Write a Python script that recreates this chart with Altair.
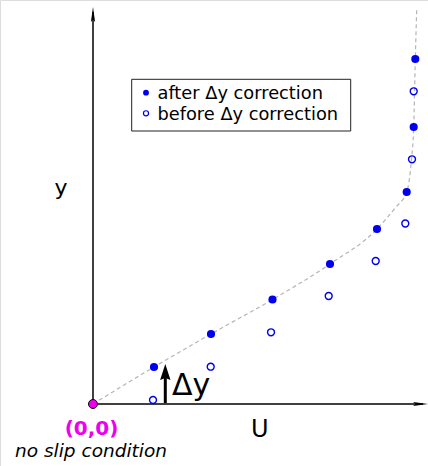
import altair as alt
import pandas as pd

# data (arbitrary units; origin at wall)
U_after = [61, 118, 179.5, 237, 284, 313.7, 320.7, 322.3]
Y_after = [37, 70, 104.5, 140, 175, 212, 277, 345]
U_before = [60, 117.7, 178, 235.7, 282.7, 312.3, 319, 320.7]
Y_before = [4, 37.3, 71.7, 108, 143, 180.5, 244.7, 312.7]
curve_U = [0, 61, 118, 179.5, 237, 284, 302, 313.7, 318.5, 320.7, 322.3, 323.7]
curve_Y = [0, 37, 70, 104.5, 140, 175, 196, 212, 245, 277, 345, 394]
legend_labels = ["after Δy correction", "before Δy correction"]

BLUE = "#0000ee"
MAG = "#ee00ee"
xs = alt.Scale(domain=[-93, 335], nice=False, zero=False)
ys = alt.Scale(domain=[-62, 404], nice=False, zero=False)
X = lambda f: alt.X(f, type="quantitative", scale=xs, axis=None)
Y = lambda f: alt.Y(f, type="quantitative", scale=ys, axis=None)

curve_df = pd.DataFrame({"u": curve_U, "y": curve_Y, "o": range(len(curve_U))})
after_df = pd.DataFrame({"u": U_after, "y": Y_after})
before_df = pd.DataFrame({"u": U_before, "y": Y_before})

curve = alt.Chart(curve_df).mark_line(
    color="#b5b5b5", strokeWidth=1.2, strokeDash=[4, 3], interpolate="monotone"
).encode(x=X("u"), y=Y("y"), order="o:Q")

axes_df = pd.DataFrame({"u": [0, 0], "y": [0, 0], "u2": [0, 330], "y2": [392, 0]})
axes = alt.Chart(axes_df).mark_rule(color="black", strokeWidth=1.5).encode(
    x=X("u"), y=Y("y"), x2="u2", y2="y2")

up_head = "M0,-1 L0.28,1 L0,0.65 L-0.28,1 Z"
right_head = "M1,0 L-1,0.28 L-0.65,0 L-1,-0.28 Z"
yhead = alt.Chart(pd.DataFrame({"u": [0], "y": [389.5]})).mark_point(
    shape=up_head, size=225, filled=True, color="black", opacity=1).encode(x=X("u"), y=Y("y"))
xhead = alt.Chart(pd.DataFrame({"u": [327.5], "y": [0]})).mark_point(
    shape=right_head, size=225, filled=True, color="black", opacity=1).encode(x=X("u"), y=Y("y"))

after = alt.Chart(after_df).mark_point(
    filled=True, color=BLUE, size=66, opacity=1).encode(x=X("u"), y=Y("y"))
before = alt.Chart(before_df).mark_point(
    filled=False, color=BLUE, size=48, strokeWidth=1.4, opacity=1).encode(x=X("u"), y=Y("y"))

origin = alt.Chart(pd.DataFrame({"u": [0], "y": [0]})).mark_point(
    filled=True, fill=MAG, stroke="black", strokeWidth=1, size=80, opacity=1
).encode(x=X("u"), y=Y("y"))

# delta-y arrow
dy_line = alt.Chart(pd.DataFrame({"u": [72.3], "y": [1], "y2": [27]})).mark_rule(
    color="black", strokeWidth=3).encode(x=X("u"), y=Y("y"), y2="y2")
dy_head = alt.Chart(pd.DataFrame({"u": [72.3], "y": [32]})).mark_point(
    shape="M0,-1 L0.65,1 L0,0.75 L-0.65,1 Z", size=256, filled=True, color="black", opacity=1
).encode(x=X("u"), y=Y("y"))
dy_text = alt.Chart(pd.DataFrame({"u": [79], "y": [9], "t": ["Δy"]})).mark_text(
    font="DejaVu Sans", fontSize=30, align="left", baseline="alphabetic", color="black"
).encode(x=X("u"), y=Y("y"), text="t:N")

labels_df = pd.DataFrame({
    "u": [-1.5, -2, 166.7, -32],
    "y": [-31, -53, -33, 209],
    "t": ["(0,0)", "no slip condition", "U", "y"],
})
lab00 = alt.Chart(labels_df.iloc[[0]]).mark_text(
    font="DejaVu Sans", fontSize=20, fontWeight="bold", color=MAG, align="center", baseline="alphabetic"
).encode(x=X("u"), y=Y("y"), text="t:N")
labns = alt.Chart(labels_df.iloc[[1]]).mark_text(
    font="DejaVu Sans", fontSize=18.5, fontStyle="italic", color="black", align="center", baseline="alphabetic"
).encode(x=X("u"), y=Y("y"), text="t:N")
labU = alt.Chart(labels_df.iloc[[2]]).mark_text(
    font="DejaVu Sans", fontSize=24, color="black", align="center", baseline="alphabetic"
).encode(x=X("u"), y=Y("y"), text="t:N")
labY = alt.Chart(labels_df.iloc[[3]]).mark_text(
    font="DejaVu Sans", fontSize=22, color="black", align="center", baseline="alphabetic"
).encode(x=X("u"), y=Y("y"), text="t:N")

# legend box
box = alt.Chart(pd.DataFrame({"u": [38.7], "u2": [257.7], "y": [273], "y2": [324.7]})).mark_rect(
    fill="white", stroke="#222222", strokeWidth=1
).encode(x=X("u"), x2="u2", y=Y("y"), y2="y2")
leg_df = pd.DataFrame({"u": [53, 53], "y": [311.3, 290.7], "ty": [304.6, 284], "tu": [64.5, 64.5],
                       "t": legend_labels})
leg_f = alt.Chart(leg_df.iloc[[0]]).mark_point(filled=True, color=BLUE, size=34, opacity=1).encode(
    x=X("u"), y=Y("y"))
leg_o = alt.Chart(leg_df.iloc[[1]]).mark_point(filled=False, color=BLUE, size=26, strokeWidth=1.2, opacity=1).encode(
    x=X("u"), y=Y("y"))
leg_t = alt.Chart(leg_df).mark_text(
    font="DejaVu Sans", fontSize=17.8, color="black", align="left", baseline="alphabetic"
).encode(x=X("tu"), y=Y("ty"), text="t:N")

chart = alt.layer(
    curve, axes, yhead, xhead, before, after, dy_line, dy_head, dy_text,
    lab00, labns, labU, labY, box, leg_f, leg_o, leg_t, origin
).properties(
    width=428, height=466, padding=0, autosize=alt.AutoSizeParams(type="none")
).configure_view(stroke=None).configure(background="white")

chart.save("out.html", embed_options={"renderer": "svg", "actions": False})
